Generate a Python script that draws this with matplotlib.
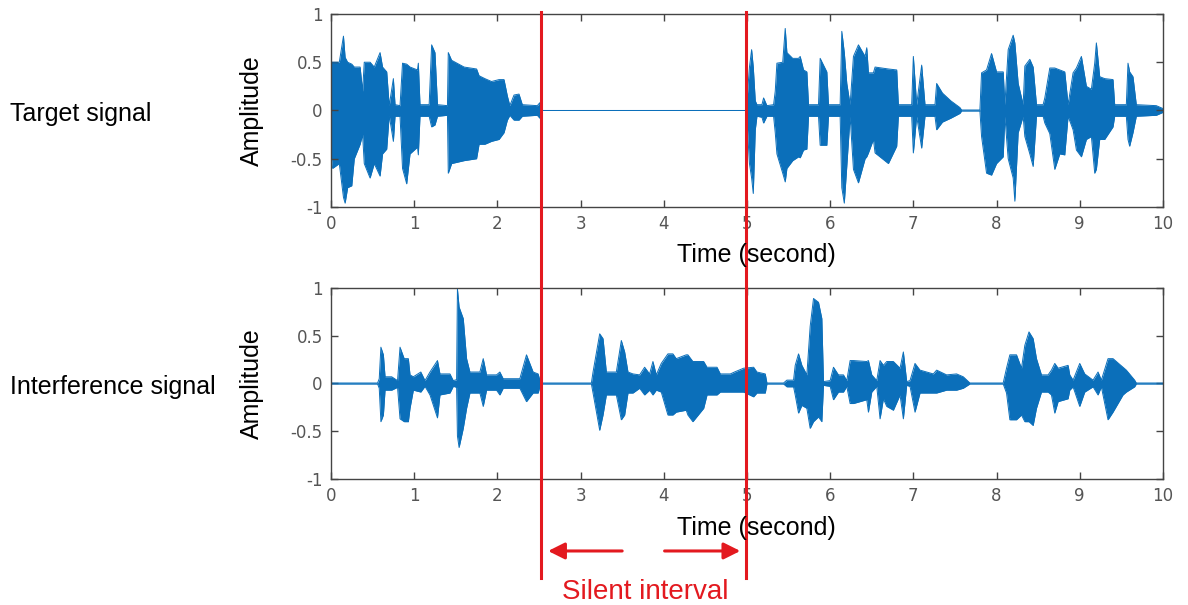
"""
Target vs. interference waveform, with the silent interval of the target marked.
"""
import matplotlib.pyplot as plt
from matplotlib.transforms import blended_transform_factory

WAVE_COLOR = '#0b6fba'
MARK_COLOR = '#e3191f'

# envelope keypoints (time in s, upper / lower amplitude)
target_t = [0.00, 0.02, 0.10, 0.15, 0.17, 0.20, 0.25, 0.28, 0.35, 0.38, 0.40, 0.47, 0.52,
            0.59, 0.62, 0.67, 0.70, 0.75, 0.77, 0.83, 0.86, 0.91, 0.95, 1.04, 1.05, 1.07,
            1.18, 1.21, 1.25, 1.28, 1.40, 1.41, 1.45, 1.60, 1.75, 1.78, 1.85, 1.93, 2.02,
            2.08, 2.12, 2.15, 2.20, 2.26, 2.30, 2.48, 2.51, 2.53, 4.99,
            5.00, 5.03, 5.056, 5.076, 5.10, 5.12, 5.18, 5.20, 5.24, 5.32, 5.34, 5.36, 5.43,
            5.46, 5.48, 5.55, 5.62, 5.64, 5.68, 5.72, 5.74, 5.86, 5.88, 5.96, 5.98, 6.12,
            6.14, 6.17, 6.20, 6.24, 6.28, 6.34, 6.42, 6.44, 6.46, 6.52, 6.54, 6.70, 6.80,
            6.82, 6.98, 7.00, 7.04, 7.10, 7.14, 7.26, 7.28, 7.35, 7.45, 7.56, 7.58, 7.80,
            7.82, 7.88, 7.94, 8.00, 8.08, 8.10, 8.14, 8.20, 8.22, 8.26, 8.32, 8.34, 8.40,
            8.44, 8.48, 8.56, 8.58, 8.64, 8.70, 8.76, 8.82, 8.86, 8.92, 8.96, 9.02, 9.08,
            9.14, 9.18, 9.20, 9.24, 9.30, 9.40, 9.42, 9.56, 9.58, 9.60, 9.64, 9.68, 9.92,
            10.00]
target_hi = [0.50, 0.50, 0.50, 0.77, 0.55, 0.50, 0.48, 0.45, 0.45, 0.20, 0.50, 0.50, 0.45,
             0.60, 0.45, 0.40, 0.05, 0.33, 0.06, 0.05, 0.49, 0.48, 0.45, 0.42, 0.49, 0.06,
             0.06, 0.68, 0.60, 0.06, 0.05, 0.60, 0.52, 0.45, 0.43, 0.36, 0.33, 0.30, 0.32,
             0.32, 0.15, 0.05, 0.16, 0.17, 0.06, 0.05, 0.08, 0.0, 0.0,
             0.10, 0.45, 0.63, 0.45, 0.10, 0.06, 0.06, 0.13, 0.05, 0.06, 0.20, 0.49, 0.50,
             0.85, 0.60, 0.54, 0.54, 0.56, 0.42, 0.40, 0.06, 0.06, 0.54, 0.40, 0.06, 0.06,
             0.82, 0.60, 0.28, 0.06, 0.56, 0.68, 0.56, 0.65, 0.39, 0.39, 0.45, 0.43, 0.42,
             0.06, 0.06, 0.56, 0.06, 0.47, 0.06, 0.06, 0.28, 0.18, 0.10, 0.03, 0.005, 0.005,
             0.39, 0.42, 0.59, 0.40, 0.40, 0.06, 0.63, 0.78, 0.70, 0.28, 0.06, 0.46, 0.53,
             0.45, 0.06, 0.06, 0.13, 0.44, 0.44, 0.42, 0.40, 0.06, 0.39, 0.44, 0.56, 0.25,
             0.22, 0.49, 0.70, 0.35, 0.33, 0.32, 0.06, 0.06, 0.49, 0.40, 0.35, 0.06, 0.05,
             0.02]
target_lo = [-0.45, -0.60, -0.55, -0.90, -0.96, -0.80, -0.78, -0.50, -0.35, -0.25, -0.55, -0.70, -0.55,
             -0.68, -0.45, -0.40, -0.05, -0.32, -0.06, -0.06, -0.60, -0.76, -0.45, -0.38, -0.46, -0.06,
             -0.06, -0.17, -0.15, -0.06, -0.05, -0.65, -0.55, -0.52, -0.50, -0.35, -0.35, -0.32, -0.30,
             -0.23, -0.10, -0.05, -0.10, -0.10, -0.06, -0.05, -0.08, 0.0, 0.0,
             -0.10, -0.55, -0.70, -0.86, -0.20, -0.06, -0.07, -0.13, -0.06, -0.06, -0.23, -0.45, -0.65,
             -0.74, -0.60, -0.52, -0.48, -0.49, -0.41, -0.40, -0.06, -0.06, -0.36, -0.36, -0.06, -0.06,
             -0.80, -0.96, -0.58, -0.06, -0.61, -0.75, -0.50, -0.48, -0.44, -0.30, -0.44, -0.55, -0.37,
             -0.06, -0.06, -0.44, -0.06, -0.39, -0.06, -0.06, -0.20, -0.12, -0.08, -0.03, -0.005, -0.005,
             -0.27, -0.65, -0.67, -0.55, -0.48, -0.06, -0.50, -0.70, -0.94, -0.23, -0.06, -0.27, -0.45,
             -0.58, -0.06, -0.06, -0.13, -0.24, -0.61, -0.45, -0.46, -0.06, -0.20, -0.41, -0.48, -0.30,
             -0.27, -0.65, -0.61, -0.30, -0.30, -0.17, -0.06, -0.06, -0.30, -0.37, -0.23, -0.06, -0.05,
             -0.02]

interf_t = [0.00, 0.56, 0.58, 0.60, 0.63, 0.65, 0.73, 0.80, 0.83, 0.88, 0.93, 0.95, 0.99,
            1.08, 1.13, 1.19, 1.28, 1.31, 1.43, 1.47, 1.51, 1.52, 1.54, 1.59, 1.63, 1.67,
            1.79, 1.83, 1.87, 1.99, 2.03, 2.07, 2.27, 2.35, 2.43, 2.49, 2.52, 3.13, 3.15,
            3.23, 3.27, 3.31, 3.43, 3.49, 3.53, 3.57, 3.63, 3.71, 3.77, 3.83, 3.87, 3.91,
            3.97, 4.05, 4.11, 4.15, 4.27, 4.29, 4.35, 4.48, 4.52, 4.64, 4.68, 4.80, 4.85,
            4.96, 5.08, 5.12, 5.22, 5.24, 5.44, 5.48, 5.56, 5.58, 5.62, 5.66, 5.72, 5.76,
            5.80, 5.86, 5.90, 5.92, 6.00, 6.04, 6.10, 6.16, 6.20, 6.24, 6.28, 6.44, 6.46,
            6.50, 6.56, 6.60, 6.64, 6.68, 6.76, 6.84, 6.88, 6.92, 6.96, 7.02, 7.08, 7.24,
            7.28, 7.40, 7.52, 7.60, 7.68, 8.08, 8.12, 8.16, 8.24, 8.30, 8.34, 8.39, 8.44,
            8.48, 8.54, 8.62, 8.66, 8.70, 8.74, 8.86, 8.88, 8.92, 9.00, 9.06, 9.16, 9.22,
            9.26, 9.34, 9.40, 9.52, 9.56, 9.66, 9.68, 10.00]
interf_hi = [0.005, 0.005, 0.05, 0.38, 0.30, 0.07, 0.07, 0.03, 0.38, 0.26, 0.26, 0.09, 0.07,
             0.12, 0.03, 0.12, 0.24, 0.10, 0.10, 0.03, 0.04, 0.99, 0.80, 0.68, 0.26, 0.12,
             0.12, 0.26, 0.09, 0.09, 0.12, 0.05, 0.05, 0.30, 0.12, 0.10, 0.005, 0.005, 0.12,
             0.52, 0.47, 0.12, 0.12, 0.45, 0.33, 0.12, 0.10, 0.09, 0.17, 0.10, 0.23, 0.09,
             0.21, 0.31, 0.31, 0.26, 0.30, 0.30, 0.23, 0.23, 0.17, 0.17, 0.10, 0.10, 0.12,
             0.16, 0.17, 0.12, 0.10, 0.005, 0.005, 0.035, 0.035, 0.19, 0.31, 0.19, 0.09, 0.60,
             0.89, 0.85, 0.68, 0.02, 0.03, 0.17, 0.09, 0.09, 0.03, 0.24, 0.24, 0.23, 0.24,
             0.09, 0.03, 0.24, 0.19, 0.23, 0.23, 0.16, 0.33, 0.02, 0.03, 0.21, 0.14, 0.10,
             0.14, 0.09, 0.10, 0.07, 0.005, 0.005, 0.16, 0.30, 0.30, 0.16, 0.40, 0.54, 0.47,
             0.26, 0.09, 0.09, 0.14, 0.21, 0.16, 0.19, 0.09, 0.035, 0.21, 0.10, 0.035, 0.12,
             0.035, 0.26, 0.26, 0.17, 0.14, 0.035, 0.005, 0.005]
interf_lo = [-0.005, -0.005, -0.05, -0.40, -0.33, -0.07, -0.07, -0.04, -0.37, -0.40, -0.40, -0.26, -0.07,
             -0.09, -0.03, -0.12, -0.36, -0.12, -0.10, -0.03, -0.04, -0.55, -0.67, -0.47, -0.26, -0.10,
             -0.10, -0.24, -0.07, -0.07, -0.12, -0.05, -0.05, -0.19, -0.10, -0.10, -0.005, -0.005, -0.10,
             -0.49, -0.33, -0.12, -0.12, -0.38, -0.33, -0.10, -0.10, -0.05, -0.12, -0.07, -0.12, -0.07,
             -0.09, -0.33, -0.33, -0.30, -0.28, -0.33, -0.40, -0.26, -0.12, -0.12, -0.09, -0.09, -0.09,
             -0.09, -0.14, -0.10, -0.10, -0.005, -0.005, -0.035, -0.035, -0.12, -0.31, -0.23, -0.26, -0.47,
             -0.40, -0.35, -0.40, -0.02, -0.03, -0.17, -0.09, -0.09, -0.03, -0.21, -0.21, -0.17, -0.30,
             -0.09, -0.03, -0.37, -0.16, -0.24, -0.28, -0.12, -0.37, -0.02, -0.03, -0.30, -0.10, -0.10,
             -0.10, -0.07, -0.07, -0.05, -0.005, -0.005, -0.10, -0.38, -0.38, -0.33, -0.40, -0.40, -0.44,
             -0.26, -0.09, -0.09, -0.12, -0.31, -0.19, -0.16, -0.07, -0.035, -0.24, -0.09, -0.035, -0.12,
             -0.035, -0.38, -0.30, -0.12, -0.09, -0.035, -0.005, -0.005]

x_ticks = list(range(0, 11))
y_ticks = [-1, -0.5, 0, 0.5, 1]
y_tick_labels = ['-1', '-0.5', '0', '0.5', '1']
silent_start, silent_end = 2.52, 4.99


def draw_wave(ax, t, hi, lo):
    ax.fill_between(t, lo, hi, color=WAVE_COLOR, linewidth=0)
    ax.plot(t, hi, color=WAVE_COLOR, linewidth=0.7)
    ax.plot(t, lo, color=WAVE_COLOR, linewidth=0.7)
    ax.set_xlim(0, 10)
    ax.set_ylim(-1, 1)
    ax.set_xticks(x_ticks)
    ax.set_yticks(y_ticks)
    ax.set_yticklabels(y_tick_labels)
    ax.tick_params(direction='in', top=True, right=True, length=5, width=1,
                   color='#444444', labelcolor='#555555', labelsize=12, pad=6)
    for lbl in ax.get_xticklabels() + ax.get_yticklabels():
        lbl.set_family('DejaVu Sans')
    for s in ax.spines.values():
        s.set_color('#444444')
        s.set_linewidth(1)


fig = plt.figure(figsize=(11.88, 6.05), dpi=100)
ax_top = fig.add_axes([0.2786, 0.6579, 0.7003, 0.319])
ax_bot = fig.add_axes([0.2786, 0.2083, 0.7003, 0.3157])

draw_wave(ax_top, target_t, target_hi, target_lo)
draw_wave(ax_bot, interf_t, interf_hi, interf_lo)

label_font = dict(family=['Liberation Sans', 'DejaVu Sans'], fontsize=18, color='black')
fig.text(0.212, 0.817, 'Amplitude', rotation=90, ha='center', va='center', **label_font)
fig.text(0.212, 0.366, 'Amplitude', rotation=90, ha='center', va='center', **label_font)
fig.text(0.637, 0.578, 'Time (second)', ha='center', va='center', **label_font)
fig.text(0.637, 0.127, 'Time (second)', ha='center', va='center', **label_font)
fig.text(0.008, 0.812, 'Target signal', ha='left', va='center', **label_font)
fig.text(0.008, 0.360, 'Interference signal', ha='left', va='center', **label_font)

# silent interval markers spanning both panels
tr = blended_transform_factory(ax_top.transData, fig.transFigure)
for x in (silent_start, silent_end):
    fig.add_artist(plt.Line2D([x, x], [0.0446, 0.980], transform=tr,
                              color=MARK_COLOR, linewidth=2.2))

arrow_y = 0.0893
arrow_props = dict(arrowstyle='-|>,head_length=1.0,head_width=0.5',
                   color=MARK_COLOR, linewidth=2.2, shrinkA=0, shrinkB=0)
ax_top.annotate('', xy=(2.61, arrow_y), xytext=(3.50, arrow_y),
                xycoords=tr, textcoords=tr, arrowprops=arrow_props)
ax_top.annotate('', xy=(4.92, arrow_y), xytext=(4.01, arrow_y),
                xycoords=tr, textcoords=tr, arrowprops=arrow_props)
fig.text(0.543, 0.022, 'Silent interval', ha='center', va='center',
         family=['Liberation Sans', 'DejaVu Sans'], fontsize=20, color=MARK_COLOR)

plt.savefig('out.png', dpi=100)
plt.close()
